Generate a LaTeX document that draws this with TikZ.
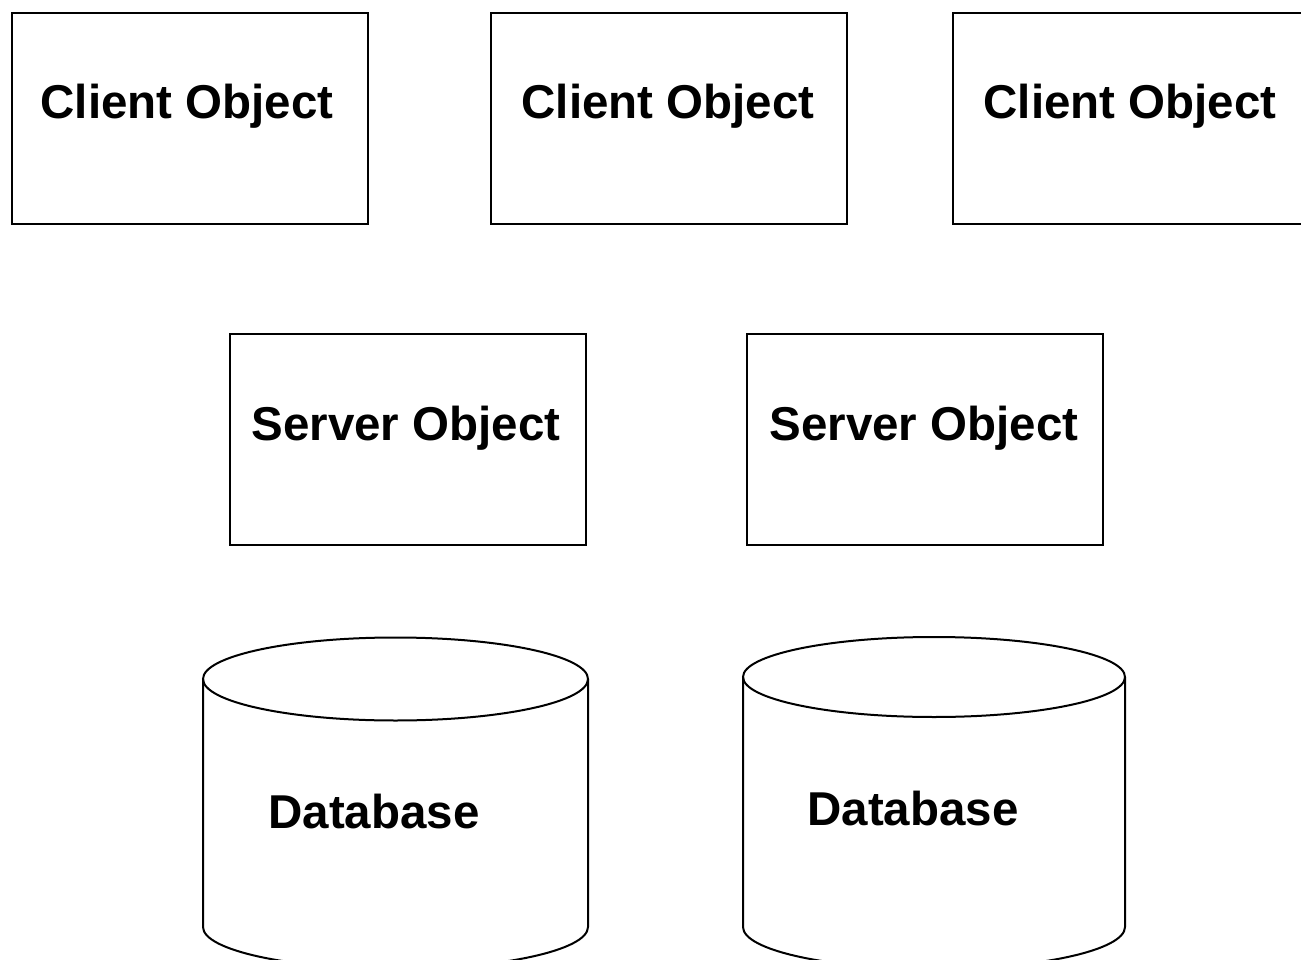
\documentclass[tikz,border=0pt]{standalone}
\usepackage{fontspec}
\setmainfont{Liberation Sans}
\begin{document}
\begin{tikzpicture}[x=1pt,y=-1pt,
  box/.style={draw=black,line width=2pt,fill=white,minimum width=356pt,minimum height=211pt,inner sep=0pt,outer sep=0pt},
  lbl/.style={font=\fontsize{47.5}{50}\selectfont\bfseries,inner sep=0pt,anchor=base},
  dbline/.style={draw=black,line width=2pt}]
\clip (0,0) rectangle (1301,960);
\useasboundingbox (0,0) rectangle (1301,960);
\fill[white] (0,0) rectangle (1301,960);

% client objects
\node[box] (c1) at (189.5,119) {};
\node[box] (c2) at (669,119) {};
\node[box] (c3) at (1131,119) {};
\node[lbl] (t1) at (187,119) {Client Object};
\node[lbl] (t2) at (668,119) {Client Object};
\node[lbl] (t3) at (1130,119) {Client Object};

% server objects
\node[box] (s1) at (408,439) {};
\node[box] (s2) at (925,439) {};
\node[lbl] (u1) at (406,440) {Server Object};
\node[lbl] (u2) at (924,440) {Server Object};

% databases (y axis points down, so the lower arc runs from 180 to 0 degrees)
\draw[dbline] (203,679) -- (203,927) arc[start angle=180,end angle=0,x radius=192.5,y radius=42] -- (588,679);
\draw[dbline] (395.5,679) ellipse[x radius=192.5,y radius=41.5];
\draw[dbline] (743,677) -- (743,927) arc[start angle=180,end angle=0,x radius=191,y radius=42] -- (1125,677);
\draw[dbline] (934,677) ellipse[x radius=191,y radius=40];
\node[lbl] (d1) at (374,828) {Database};
\node[lbl] (d2) at (913,825) {Database};
\end{tikzpicture}
\end{document}
